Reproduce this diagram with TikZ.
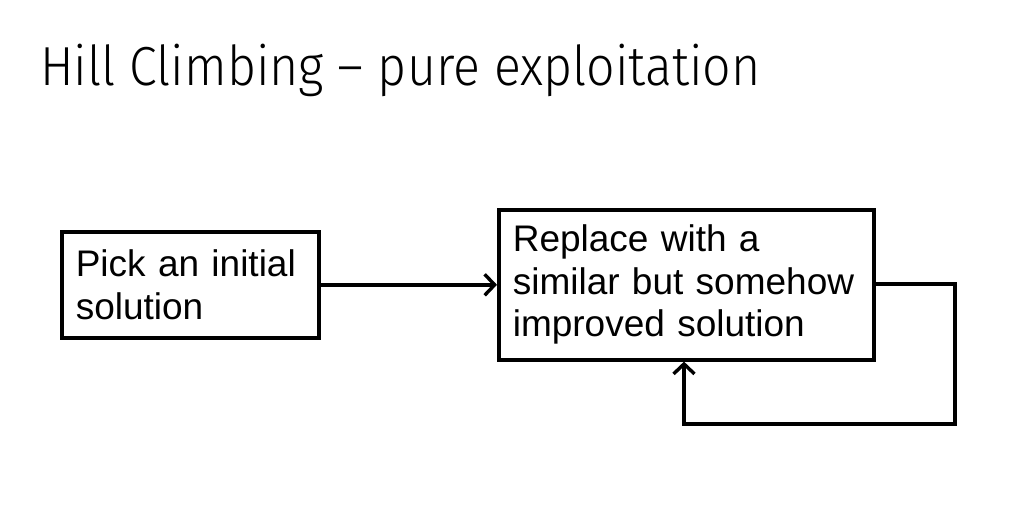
\documentclass[tikz,border=0pt]{standalone}
\usepackage{fontspec}
\setmainfont{Liberation Sans}
\newfontfamily\titlefont{Fira Sans Light}[FakeStretch=0.91]
\usetikzlibrary{arrows.meta}
\tikzset{
  box/.style={draw=black, line width=3.6pt, rectangle, anchor=north west, inner xsep=14pt, inner ysep=0pt, align=left, font=\fontsize{37}{42.5}\selectfont},
  conn/.style={draw=black, line width=3.6pt, -{Straight Barb[length=10pt,width=21pt,line width=3.4pt]}}
}
\begin{document}
\begin{tikzpicture}[x=1pt,y=-1pt]
\useasboundingbox (0,0) rectangle (1032,525);
\node[anchor=base west, inner sep=0pt, font=\titlefont\fontsize{55}{60}\selectfont] (title) at (40,85) {Hill Climbing – pure exploitation};
\node[box, minimum width=257pt, minimum height=106pt, text width=229pt] (pick) at (60,230) {Pick an initial\\solution};
\node[box, minimum width=375pt, minimum height=150pt, text width=347pt] (rep) at (497,208) {Replace with a\\similar but somehow\\improved solution};
\draw[conn] (pick.east) -- (rep.west);
\coordinate (c1) at (955,284);
\coordinate (c2) at (955,424);
\coordinate (c3) at (684,424);
\draw[conn] (rep.east |- c1) -- (c1) -- (c2) -- (c3) -- (c3 |- rep.south);
\end{tikzpicture}
\end{document}
